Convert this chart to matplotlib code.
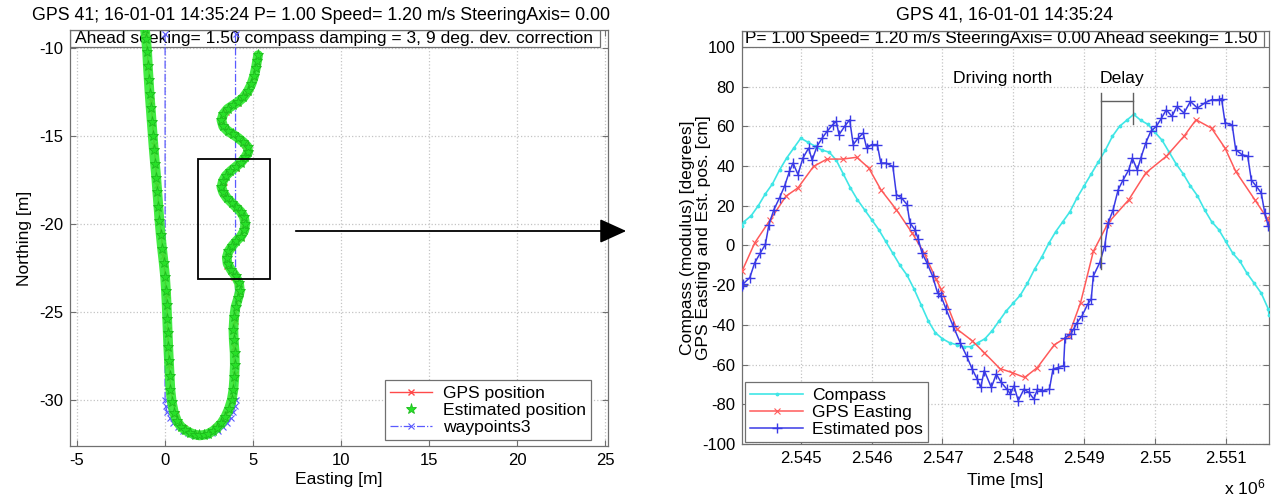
import matplotlib
matplotlib.use("Agg")
import matplotlib.pyplot as plt
from matplotlib.patches import Rectangle, FancyArrowPatch
from matplotlib.ticker import FuncFormatter, MultipleLocator

plt.rcParams['font.family'] = ['Liberation Sans', 'DejaVu Sans']
plt.rcParams['mathtext.default'] = 'regular'
plt.rcParams['axes.unicode_minus'] = False

# ---------------- trajectory (left panel) ----------------
est_east = [-1.15, -1.08, -1.02, -0.98, -0.93, -0.88, -0.82, -0.76, -0.70, -0.64,
            -0.57, -0.50, -0.44, -0.38, -0.32, -0.25, -0.17, -0.08, 0.00, 0.05,
            0.09, 0.12, 0.15, 0.18, 0.22, 0.26, 0.30, 0.38, 0.50, 0.68,
            0.90, 1.15, 1.42, 1.70, 1.95, 2.20, 2.45, 2.72, 2.95, 3.20,
            3.42, 3.62, 3.78, 3.88, 3.93, 3.96, 3.95, 3.90, 3.88, 3.92,
            4.00, 4.15, 4.25, 4.20, 4.00, 3.75, 3.55, 3.50, 3.60, 3.80,
            4.05, 4.30, 4.50, 4.55, 4.48, 4.30, 4.05, 3.80, 3.50, 3.30,
            3.20, 3.28, 3.45, 3.70, 4.00, 4.30, 4.55, 4.72, 4.68, 4.45,
            4.15, 3.85, 3.55, 3.30, 3.20, 3.30, 3.55, 3.85, 4.15, 4.45,
            4.70, 4.90, 5.05, 5.15, 5.22, 5.28]
est_north = [-8.9, -9.5, -10.2, -11.0, -11.8, -12.6, -13.4, -14.2, -15.0, -15.8,
             -16.6, -17.4, -18.2, -19.0, -19.8, -20.6, -21.4, -22.2, -23.0, -23.8,
             -24.6, -25.4, -26.2, -27.0, -27.8, -28.6, -29.4, -30.1, -30.7, -31.2,
             -31.5, -31.7, -31.85, -31.95, -32.0, -31.97, -31.9, -31.75, -31.55, -31.3,
             -30.95, -30.5, -30.0, -29.4, -28.7, -28.0, -27.3, -26.6, -26.0, -25.3,
             -24.7, -24.2, -23.8, -23.35, -22.95, -22.6, -22.25, -21.9, -21.55, -21.25,
             -20.95, -20.7, -20.35, -20.0, -19.6, -19.3, -19.05, -18.8, -18.5, -18.2,
             -17.9, -17.55, -17.25, -17.0, -16.75, -16.5, -16.2, -15.9, -15.6, -15.35,
             -15.1, -14.9, -14.7, -14.45, -14.1, -13.75, -13.45, -13.25, -13.05, -12.8,
             -12.45, -12.05, -11.6, -11.15, -10.75, -10.4]

gps_east = [-1.1, -0.95, -0.8, -0.62, -0.45, -0.3, -0.1, 0.08, 0.15, 0.22,
            0.32, 0.6, 1.1, 1.7, 2.3, 2.9, 3.45, 3.8, 3.95, 3.9,
            3.95, 4.2, 3.9, 3.5, 3.75, 4.3, 4.5, 4.0, 3.35, 3.35,
            4.0, 4.6, 4.55, 3.8, 3.25, 3.45, 4.1, 4.65, 5.0, 5.2]
gps_north = [-9.2, -11.0, -13.0, -15.5, -17.8, -19.8, -21.8, -24.0, -26.0, -28.0,
             -29.5, -30.8, -31.6, -31.9, -31.9, -31.5, -30.8, -29.9, -28.5, -27.0,
             -25.5, -24.0, -23.0, -22.4, -21.3, -20.7, -20.0, -19.1, -18.3, -17.6,
             -16.8, -16.1, -15.5, -14.9, -14.3, -13.6, -13.1, -12.5, -11.7, -10.8]

wp_east = [0.0, 0.0, 0.030, 0.121, 0.268, 0.468, 0.714, 1.0, 1.316, 1.653,
           2.0, 2.347, 2.684, 3.0, 3.286, 3.532, 3.732, 3.879, 3.970, 4.0, 4.0]
wp_north = [-9.2, -30.0, -30.347, -30.684, -31.0, -31.286, -31.532, -31.732, -31.879, -31.970,
            -32.0, -31.970, -31.879, -31.732, -31.532, -31.286, -31.0, -30.684, -30.347, -30.0, -9.2]

# ---------------- time series (right panel) ----------------
compass_t = [2544170, 2544200, 2544300, 2544400, 2544500, 2544600, 2544700, 2544800, 2544900, 2545000,
             2545100, 2545200, 2545300, 2545400, 2545500, 2545600, 2545700, 2545800, 2545900, 2546000,
             2546100, 2546200, 2546300, 2546400, 2546500, 2546600, 2546700, 2546800, 2546900, 2547000,
             2547100, 2547200, 2547300, 2547400, 2547500, 2547600, 2547700, 2547800, 2547900, 2548000,
             2548100, 2548200, 2548300, 2548400, 2548500, 2548600, 2548700, 2548800, 2548900, 2549000,
             2549100, 2549200, 2549300, 2549400, 2549500, 2549600, 2549700, 2549800, 2549900, 2550000,
             2550100, 2550200, 2550300, 2550400, 2550500, 2550600, 2550700, 2550800, 2550900, 2551000,
             2551100, 2551200, 2551300, 2551400, 2551500, 2551600, 2551610]
compass_v = [10, 12, 15, 20, 26, 31, 38, 44, 49, 54,
             52, 50, 48, 47, 43, 36, 29, 23, 18, 13,
             8, 2, -4, -10, -15, -22, -30, -38, -44, -47,
             -49, -50, -51, -51, -49, -47, -43, -38, -33, -29,
             -25, -19, -12, -6, 1, 7, 12, 17, 24, 30,
             36, 42, 48, 55, 60, 63, 66, 63, 61, 57,
             53, 47, 41, 36, 30, 25, 18, 12, 8, 2,
             -4, -8, -14, -19, -24, -32, -35]

gps_t = [2544170, 2544350, 2544570, 2544790, 2544960, 2545180, 2545370, 2545590, 2545790, 2545960,
         2546130, 2546350, 2546570, 2546740, 2546910, 2546980, 2547200, 2547420, 2547590, 2547810,
         2547980, 2548160, 2548340, 2548580, 2548780, 2548950, 2549130, 2549340, 2549630, 2549870,
         2550160, 2550410, 2550580, 2550800, 2550990, 2551140, 2551410, 2551580, 2551610]
gps_v = [-13, 1.3, 13, 24.8, 29, 39.8, 43.5, 43.5, 44.4, 39,
         28.1, 18, 6.4, -3.7, -17, -22, -42, -48, -54, -62,
         -64, -66.5, -61.5, -50, -45.6, -28.8, -3, 11.4, 23, 36.5,
         44.9, 55, 63.3, 59, 49, 37.3, 23, 13.9, 12]

est_t = [2544170, 2544180, 2544280, 2544350, 2544430, 2544500, 2544550, 2544620, 2544700, 2544770,
         2544840, 2544890, 2544960, 2545030, 2545110, 2545160, 2545230, 2545300, 2545370, 2545450,
         2545500, 2545540, 2545620, 2545690, 2545740, 2545810, 2545880, 2545930, 2546000, 2546080,
         2546130, 2546200, 2546300, 2546350, 2546420, 2546500, 2546540, 2546610, 2546660, 2546710,
         2546780, 2546860, 2546930, 2546980, 2547050, 2547150, 2547250, 2547340, 2547420, 2547490,
         2547540, 2547590, 2547690, 2547760, 2547830, 2547910, 2547960, 2548010, 2548070, 2548150,
         2548220, 2548290, 2548340, 2548410, 2548510, 2548560, 2548630, 2548710, 2548730, 2548810,
         2548850, 2548900, 2548970, 2549050, 2549100, 2549130, 2549220, 2549290, 2549340, 2549410,
         2549480, 2549550, 2549630, 2549680, 2549750, 2549800, 2549870, 2549940, 2550020, 2550090,
         2550160, 2550240, 2550310, 2550410, 2550500, 2550600, 2550700, 2550800, 2550900, 2550940,
         2550990, 2551090, 2551140, 2551230, 2551310, 2551360, 2551430, 2551500, 2551550, 2551600]
est_v = [-20.4, -19.6, -16.2, -8.7, -3.7, 0.5, 10.5, 18, 24, 29.8,
         37.3, 41.5, 35.7, 44, 49, 43, 50, 54, 57.4, 60.8,
         62.5, 55.8, 60, 63.3, 50.8, 54, 56.6, 49, 50.8, 50.8,
         41.5, 41.5, 39.8, 25.6, 24, 20.6, 11.4, 8, 3, -3.7,
         -8.7, -15.4, -23.8, -25.5, -32, -40.5, -48.9, -55.6, -62.3, -67.3,
         -71.5, -63, -71.5, -64.8, -69, -72.4, -74.9, -70.7, -78.2, -72.4,
         -74, -77.4, -72.4, -73.2, -72.4, -62.3, -61.5, -60.6, -46.4, -44.7,
         -42.2, -38.9, -35.5, -29.6, -27, -15.4, -8.7, -0.3, 11.4, 18,
         28, 33, 38, 44, 38, 44, 51.6, 57.4, 60, 64,
         68.3, 65, 70, 66.7, 72.5, 69.2, 71.7, 73.4, 73.4, 74,
         61.7, 60.8, 48.2, 45.7, 44.9, 33, 29.8, 26.5, 16.4, 9.7]

# delay marker: zero crossing of estimated pos and compass peak
delay_start = 2549239
delay_end = 2549692

GRID = dict(color='#c4c4c4', linestyle=':', linewidth=0.9)
FS = 12.6
TFS = 12


def style_axes(ax):
    ax.grid(True, **GRID)
    for s in ax.spines.values():
        s.set_color('#707070')
        s.set_linewidth(0.9)
    ax.tick_params(direction='in', length=4, top=True, right=True,
                   labelsize=TFS, color='#707070', pad=5)


fig = plt.figure(figsize=(12.76, 4.96), dpi=100)

# ---------- left panel ----------
ax1 = fig.add_axes([70 / 1276, 1 - 446 / 496, 538 / 1276, 416 / 496])
style_axes(ax1)
ax1.set_xlim(-5.4, 25.15)
ax1.set_ylim(-32.6, -8.97)
ax1.xaxis.set_major_locator(MultipleLocator(5))
ax1.yaxis.set_major_locator(MultipleLocator(5))

ax1.plot(wp_east, wp_north, color='#5a5aff', linestyle='-.', linewidth=0.9,
         marker='x', markersize=4, markeredgewidth=0.8, label='waypoints3', zorder=3)
ax1.plot(gps_east, gps_north, color='#ff4a4a', linewidth=1.0, marker='x',
         markersize=4, label='GPS position', zorder=4)
ax1.plot(est_east, est_north, color='#2ee82e', linewidth=7, solid_capstyle='round',
         zorder=5, alpha=0.9)
ax1.plot(est_east, est_north, color='#28e028', linestyle='none', marker='*',
         markersize=8, markeredgewidth=0.6, markeredgecolor='#1cbc1c',
         label='Estimated position', zorder=6)

ax1.add_patch(Rectangle((1.85, -23.1), 4.1, 6.8, fill=False, edgecolor='black',
                        linewidth=1.3, zorder=7))

# parameter box at the top of the trajectory plot
ax1.add_patch(Rectangle((0, 0.959), 0.985, 0.041, transform=ax1.transAxes,
                        facecolor='white', edgecolor='#707070', linewidth=0.9, zorder=2))
ax1.text(0.49, 0.979, 'Ahead seeking= 1.50 compass damping = 3, 9 deg. dev. correction',
         transform=ax1.transAxes, ha='center', va='center', fontsize=FS, zorder=2.5)

ax1.set_xlabel('Easting [m]', fontsize=FS, labelpad=3)
ax1.set_ylabel('Northing [m]', fontsize=FS, labelpad=5)

h1, l1 = ax1.get_legend_handles_labels()
order = [l1.index('GPS position'), l1.index('Estimated position'), l1.index('waypoints3')]
leg1 = ax1.legend([h1[i] for i in order], [l1[i] for i in order],
                  loc='lower right', bbox_to_anchor=(0.968, 0.014), borderaxespad=0,
                  fontsize=FS, fancybox=False, framealpha=1, edgecolor='#707070',
                  handlelength=2.4, borderpad=0.3, labelspacing=0.1, handletextpad=0.6)
leg1.get_frame().set_linewidth(0.9)
leg1.set_zorder(10)

fig.text(321 / 1276, 1 - 15 / 496,
         'GPS 41; 16-01-01 14:35:24 P= 1.00 Speed= 1.20 m/s SteeringAxis= 0.00',
         ha='center', va='center', fontsize=FS + 0.2)

# ---------- right panel ----------
ax2 = fig.add_axes([742 / 1276, 1 - 444 / 496, 527 / 1276, 413 / 496])
style_axes(ax2)
ax2.set_xlim(2544170, 2551610)
ax2.set_ylim(-100, 108)
ax2.set_xticks([2545000, 2546000, 2547000, 2548000, 2549000, 2550000, 2551000])
ax2.set_yticks(list(range(-100, 101, 20)))
ax2.xaxis.set_major_formatter(FuncFormatter(lambda v, p: '%g' % (v / 1e6)))

ax2.plot(compass_t, compass_v, color='#40e6e6', linewidth=1.2, marker='.',
         markersize=3.5, label='Compass', zorder=3)
ax2.plot(gps_t, gps_v, color='#ff5a5a', linewidth=1.1, marker='x',
         markersize=4, markeredgewidth=0.8, label='GPS Easting', zorder=4)
ax2.plot(est_t, est_v, color='#3a3ae6', linewidth=1.1, marker='+',
         markersize=7, markeredgewidth=1.0, label='Estimated pos', zorder=5)

ax2.plot([delay_start, delay_start], [-12, 77], color='#606060', linewidth=1.0, zorder=6)
ax2.plot([delay_end, delay_end], [61, 77], color='#606060', linewidth=1.0, zorder=6)
ax2.plot([delay_start, delay_end], [72.5, 72.5], color='#606060', linewidth=1.0, zorder=6)
ax2.text(2547843, 84, 'Driving north', ha='center', va='center', fontsize=FS)
ax2.text((delay_start + delay_end) / 2 + 70, 84, 'Delay', ha='center', va='center', fontsize=FS)

ax2.add_patch(Rectangle((0, 0.961), 0.99, 0.039, transform=ax2.transAxes,
                        facecolor='white', edgecolor='#707070', linewidth=0.9, zorder=2))
ax2.text(0.492, 0.981, 'P= 1.00 Speed= 1.20 m/s SteeringAxis= 0.00 Ahead seeking= 1.50',
         transform=ax2.transAxes, ha='center', va='center', fontsize=FS - 0.2, zorder=2.5)

ax2.set_xlabel('Time [ms]', fontsize=FS, labelpad=5)
ax2.set_ylabel('Compass (modulus) [degrees]\nGPS Easting and Est. pos. [cm]',
               fontsize=FS, linespacing=1.15)
ax2.yaxis.set_label_coords(-0.058, 0.5)

leg2 = ax2.legend(loc='lower left', bbox_to_anchor=(0.006, 0.005), borderaxespad=0,
                  fontsize=FS, fancybox=False, framealpha=1, edgecolor='#707070',
                  handlelength=3.0, borderpad=0.3, labelspacing=0.1, handletextpad=0.5)
leg2.get_frame().set_linewidth(0.9)
leg2.set_zorder(10)

fig.text(1005 / 1276, 1 - 15 / 496, 'GPS 41, 16-01-01 14:35:24',
         ha='center', va='center', fontsize=FS + 0.2)
fig.text(1245 / 1276, 1 - 487 / 496, 'x 10$^{6}$', ha='center', va='center', fontsize=FS)

# arrow linking the zoom box to the time series
fig.add_artist(FancyArrowPatch(
    (293 / 1276, 1 - 231 / 496), (629 / 1276, 1 - 231 / 496),
    transform=fig.transFigure, arrowstyle='-|>,head_length=1.1,head_width=0.5',
    mutation_scale=15, color='black', linewidth=1.3))

fig.savefig('out.png', dpi=100)
